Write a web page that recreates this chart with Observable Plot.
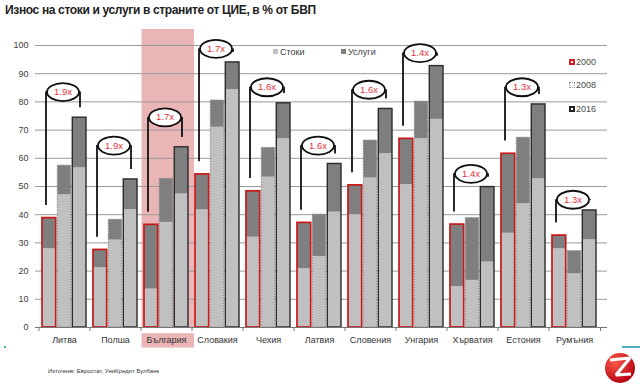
<!DOCTYPE html>
<html><head><meta charset="utf-8">
<script src="https://cdn.jsdelivr.net/npm/d3@7"></script>
<script src="https://cdn.jsdelivr.net/npm/@observablehq/plot@0.6"></script>
<style>
body{margin:0;background:#fff;width:640px;height:387px;overflow:hidden;position:relative;font-family:"Liberation Sans",Arial,sans-serif}
#chart{position:absolute;left:0;top:0}
.title{position:absolute;left:5px;top:3px;font-weight:bold;font-size:12px;color:#222;letter-spacing:-0.35px;white-space:nowrap}
.leg{position:absolute;font-size:9px;color:#404040;white-space:nowrap;line-height:10px}
.sq{display:inline-block;width:5px;height:5px;margin-right:2px;vertical-align:1px}
.box{position:absolute;left:0;top:2px;width:6px;height:6px;box-sizing:border-box}
.yl{position:absolute;font-size:9px;color:#4a4a4a;line-height:10px;padding-left:7px}
.foot{position:absolute;left:48px;top:368px;font-size:6px;color:#333;white-space:nowrap}
.cyan{position:absolute;background:#4bacc6}
#logo{position:absolute;left:604px;top:351px}
</style></head>
<body>
<div id="chart"></div>
<div class="title">Износ на стоки и услуги в страните от ЦИЕ, в % от БВП</div>
<div class="leg" style="left:273px;top:47px"><span class="sq" style="background:#c0c0c0"></span>Стоки</div>
<div class="leg" style="left:341px;top:47px"><span class="sq" style="background:#7f7f7f"></span>Услуги</div>
<div class="yl" style="left:569px;top:57px"><span class="box" style="border:2px solid #d02020"></span>2000</div>
<div class="yl" style="left:569px;top:80px"><span class="box" style="border:1px dotted #999"></span>2008</div>
<div class="yl" style="left:569px;top:104px"><span class="box" style="border:2px solid #222"></span>2016</div>
<div class="foot">Източник: Евростат, УниКредит Булбанк</div>
<div class="cyan" style="left:4px;top:346px;width:2px;height:2px"></div>
<div class="cyan" style="left:622px;top:346px;width:18px;height:2px"></div>
<svg id="logo" width="32" height="34" viewBox="0 0 32 34">
<defs><radialGradient id="rg" cx="0.35" cy="0.3" r="0.75"><stop offset="0" stop-color="#ff5a4a"/><stop offset="1" stop-color="#b00010"/></radialGradient></defs>
<circle cx="16" cy="17" r="15" fill="url(#rg)"/>
<path d="M6 9 L26 7 L12 24 L27 23" fill="none" stroke="#fff" stroke-width="3.2" stroke-linejoin="bevel"/>
</svg>
<script>
const countries = ["Литва","Полша","България","Словакия","Чехия","Латвия","Словения","Унгария","Хърватия","Естония","Румъния"];
const goods2000 = [27.9, 21.2, 13.7, 41.7, 32, 20.8, 40, 50.7, 14.5, 33.4, 27.9];
const total2000 = [38.8, 27.5, 36.4, 54.3, 48.3, 37.1, 50.4, 66.9, 36.5, 61.6, 32.6];
const goods2008 = [47, 31, 37.3, 71, 53.3, 25.2, 53, 66.9, 16.7, 43.9, 19];
const total2008 = [57.4, 38.2, 52.7, 80.5, 63.7, 40, 66.3, 80.1, 38.8, 67.3, 27.1];
const goods2016 = [56.6, 41.8, 47.4, 84.3, 66.9, 40.9, 61.6, 73.8, 23.2, 52.7, 31.1];
const total2016 = [74.4, 52.5, 63.9, 94, 79.5, 58, 77.5, 92.7, 49.8, 79.1, 41.5];
const multipliers = ["1.9x","1.9x","1.7x","1.7x","1.6x","1.6x","1.6x","1.4x","1.4x","1.3x","1.3x"];
const bracketLevel = [83.5, 64.5, 74.5, 98.8, 85.2, 64.5, 84.3, 97.3, 54.5, 85.2, 45.3];
const yTicks = [0,10,20,30,40,50,60,70,80,90,100];
const highlighted = "България";

const years = [
  {year: "2000", goods: goods2000, total: total2000, stroke: "#c81818", sw: 1.7, dash: null, il: 0, ir: 30.3},
  {year: "2008", goods: goods2008, total: total2008, stroke: "#8a8a8a", sw: 1, dash: "1.5,1.2", il: 15.3, ir: 15.3},
  {year: "2016", goods: goods2016, total: total2016, stroke: "#2a2a2a", sw: 1.4, dash: null, il: 30.3, ir: 0}
];

const ann = countries.map((c, i) => ({
  country: c, level: bracketLevel[i], mult: multipliers[i],
  start: total2000[i] + 4.5, end: total2016[i] + 3.5
}));

const ellipse = {draw(ctx) {
  const rx = 16, ry = 9, k = 0.5523;
  ctx.moveTo(rx, 0);
  ctx.bezierCurveTo(rx, ry*k, rx*k, ry, 0, ry);
  ctx.bezierCurveTo(-rx*k, ry, -rx, ry*k, -rx, 0);
  ctx.bezierCurveTo(-rx, -ry*k, -rx*k, -ry, 0, -ry);
  ctx.bezierCurveTo(rx*k, -ry, rx, -ry*k, rx, 0);
  ctx.closePath();
}};

const marks = [];
// highlight
marks.push(Plot.barY([{country: highlighted}], {x: "country", y1: 0, y2: 105.7, fill: "#e9b5b5", insetLeft: -2.5, insetRight: -6}));
marks.push(Plot.barY([{country: highlighted}], {x: "country", y1: -2.2, y2: -7.3, fill: "#e9b5b5", insetLeft: -2.5, insetRight: -6}));
// grid
marks.push(Plot.ruleY(yTicks, {stroke: "#9a9a9a", strokeWidth: 1, insetLeft: -1, insetRight: -4}));
// bars
for (const yr of years) {
  const rows = countries.map((c, i) => ({country: c, goods: yr.goods[i], total: yr.total[i]}));
  marks.push(Plot.barY(rows, {x: "country", y1: 0, y2: "goods", fill: "#c0c0c0", insetLeft: yr.il, insetRight: yr.ir}));
  marks.push(Plot.barY(rows, {x: "country", y1: "goods", y2: "total", fill: "#7f7f7f", insetLeft: yr.il, insetRight: yr.ir}));
  marks.push(Plot.barY(rows, {x: "country", y1: 0, y2: "total", fill: "none", stroke: yr.stroke, strokeWidth: yr.sw, strokeDasharray: yr.dash, insetLeft: yr.il, insetRight: yr.ir}));
}
// baseline + ticks
marks.push(Plot.ruleY([0], {stroke: "#777", insetLeft: -1, insetRight: -4}));
marks.push(Plot.ruleX(countries, {x: d => d, y1: 0, y2: -1.4, dx: -25.5, stroke: "#777"}));
marks.push(Plot.ruleX(countries.slice(-1), {x: d => d, y1: 0, y2: -1.4, dx: 26, stroke: "#777"}));
// brackets
marks.push(Plot.ruleX(ann, {x: "country", y1: "start", y2: "level", dx: -18.5, stroke: "#111", strokeWidth: 1.8}));
marks.push(Plot.ruleX(ann, {x: "country", y1: "end", y2: "level", dx: 15.5, stroke: "#111", strokeWidth: 1.8}));
marks.push(Plot.ruleY(ann, {y: "level", x1: "country", x2: "country", insetLeft: 4, insetRight: 7, stroke: "#111", strokeWidth: 1.8}));
marks.push(Plot.dot(ann, {x: "country", y: "level", symbol: ellipse, fill: "white", stroke: "#111", strokeWidth: 1.8, dx: -1.5}));
marks.push(Plot.text(ann, {x: "country", y: "level", text: "mult", fill: "#e8333a", fontSize: 9.5, dx: -1.5}));
// x labels
marks.push(Plot.text(countries, {x: d => d, y: 0, text: d => d, dy: 13, fill: "#333", fontSize: 9}));

const plot = Plot.plot({
  width: 640, height: 387,
  marginTop: 45, marginBottom: 60, marginLeft: 36, marginRight: 37,
  style: {fontFamily: "Liberation Sans, Arial, sans-serif", background: "transparent", overflow: "visible"},
  x: {domain: countries, paddingInner: 0.13, paddingOuter: 0.04, axis: null},
  y: {domain: [0, 100], ticks: yTicks, tickSize: 0, tickPadding: 8, label: null, fontSize: 9},
  marks
});
plot.querySelectorAll("[aria-label='y-axis tick label'] text, [aria-label='y-axis'] text").forEach(t => { t.setAttribute("fill", "#404040"); t.style.fontSize = "9px"; });
document.getElementById("chart").appendChild(plot);
</script>
</body></html>
